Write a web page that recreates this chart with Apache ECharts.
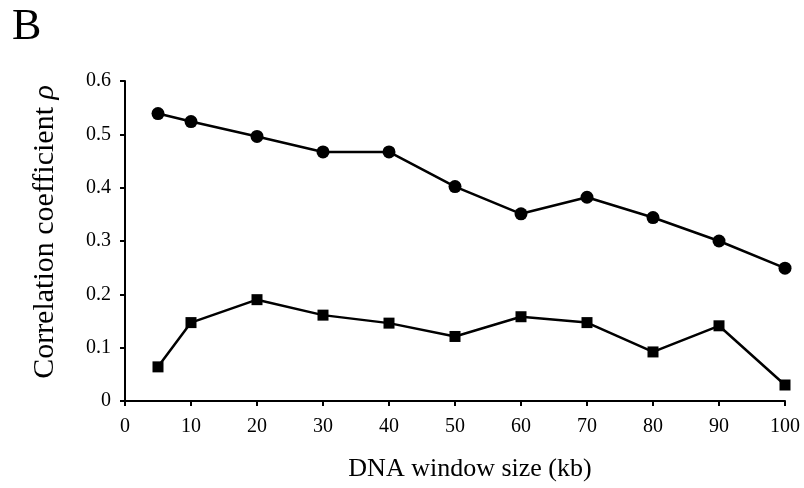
<!DOCTYPE html>
<html>
<head>
<meta charset="utf-8">
<script src="https://cdn.jsdelivr.net/npm/echarts@6/dist/echarts.min.js"></script>
<style>html,body{margin:0;padding:0;background:#fff}#c{width:804px;height:488px}</style>
</head>
<body>
<div id="c"></div>
<script>
const windowSizes = [5, 10, 20, 30, 40, 50, 60, 70, 80, 90, 100];
const circleSeries = [0.539, 0.524, 0.496, 0.467, 0.467, 0.402, 0.351, 0.382, 0.344, 0.300, 0.249];
const squareSeries = [0.064, 0.147, 0.190, 0.161, 0.146, 0.121, 0.158, 0.147, 0.092, 0.141, 0.030];
const panelLabel = 'B';
const xTitle = 'DNA window size (kb)';
const yTitleText = 'Correlation coefficient ';
const yTitleSymbol = 'ρ';

const font = '"Liberation Serif", "Times New Roman", serif';
const chart = echarts.init(document.getElementById('c'), null, {renderer: 'canvas'});
chart.setOption({
  animation: false,
  backgroundColor: '#fff',
  grid: {left: 125, right: 19, top: 81, bottom: 87, containLabel: false},
  graphic: [{
    type: 'text', left: 12, top: 5,
    style: {text: panelLabel, font: '44px ' + font, fill: '#000'}
  }],
  xAxis: {
    type: 'value', min: 0, max: 100, interval: 10,
    name: xTitle, nameLocation: 'middle', nameGap: 55,
    nameTextStyle: {fontFamily: font, fontSize: 26, color: '#000', padding: [0, 0, 0, 30]},
    axisLine: {show: true, lineStyle: {color: '#000', width: 2}},
    axisTick: {show: true, length: 5, lineStyle: {color: '#000', width: 2}},
    axisLabel: {fontFamily: font, fontSize: 20, color: '#000', margin: 16},
    splitLine: {show: false}
  },
  yAxis: {
    type: 'value', min: 0, max: 0.6, interval: 0.1,
    name: yTitleText + '{i|' + yTitleSymbol + '}', nameLocation: 'middle', nameGap: 65, nameRotate: 90,
    nameTextStyle: {
      fontFamily: font, fontSize: 30, color: '#000', padding: [0, 0, 0, 18],
      rich: {i: {fontFamily: font, fontSize: 30, fontStyle: 'italic', color: '#000'}}
    },
    axisLine: {show: true, lineStyle: {color: '#000', width: 2}},
    axisTick: {show: true, length: 5, lineStyle: {color: '#000', width: 2}},
    axisLabel: {fontFamily: font, fontSize: 20, color: '#000', margin: 14},
    splitLine: {show: false}
  },
  series: [
    {
      type: 'line', name: 'circle',
      data: windowSizes.map((x, i) => [x, circleSeries[i]]),
      symbol: 'circle', symbolSize: 13,
      lineStyle: {color: '#000', width: 2.5},
      itemStyle: {color: '#000'}
    },
    {
      type: 'line', name: 'square',
      data: windowSizes.map((x, i) => [x, squareSeries[i]]),
      symbol: 'rect', symbolSize: 11,
      lineStyle: {color: '#000', width: 2.5},
      itemStyle: {color: '#000'}
    }
  ]
});
</script>
</body>
</html>
